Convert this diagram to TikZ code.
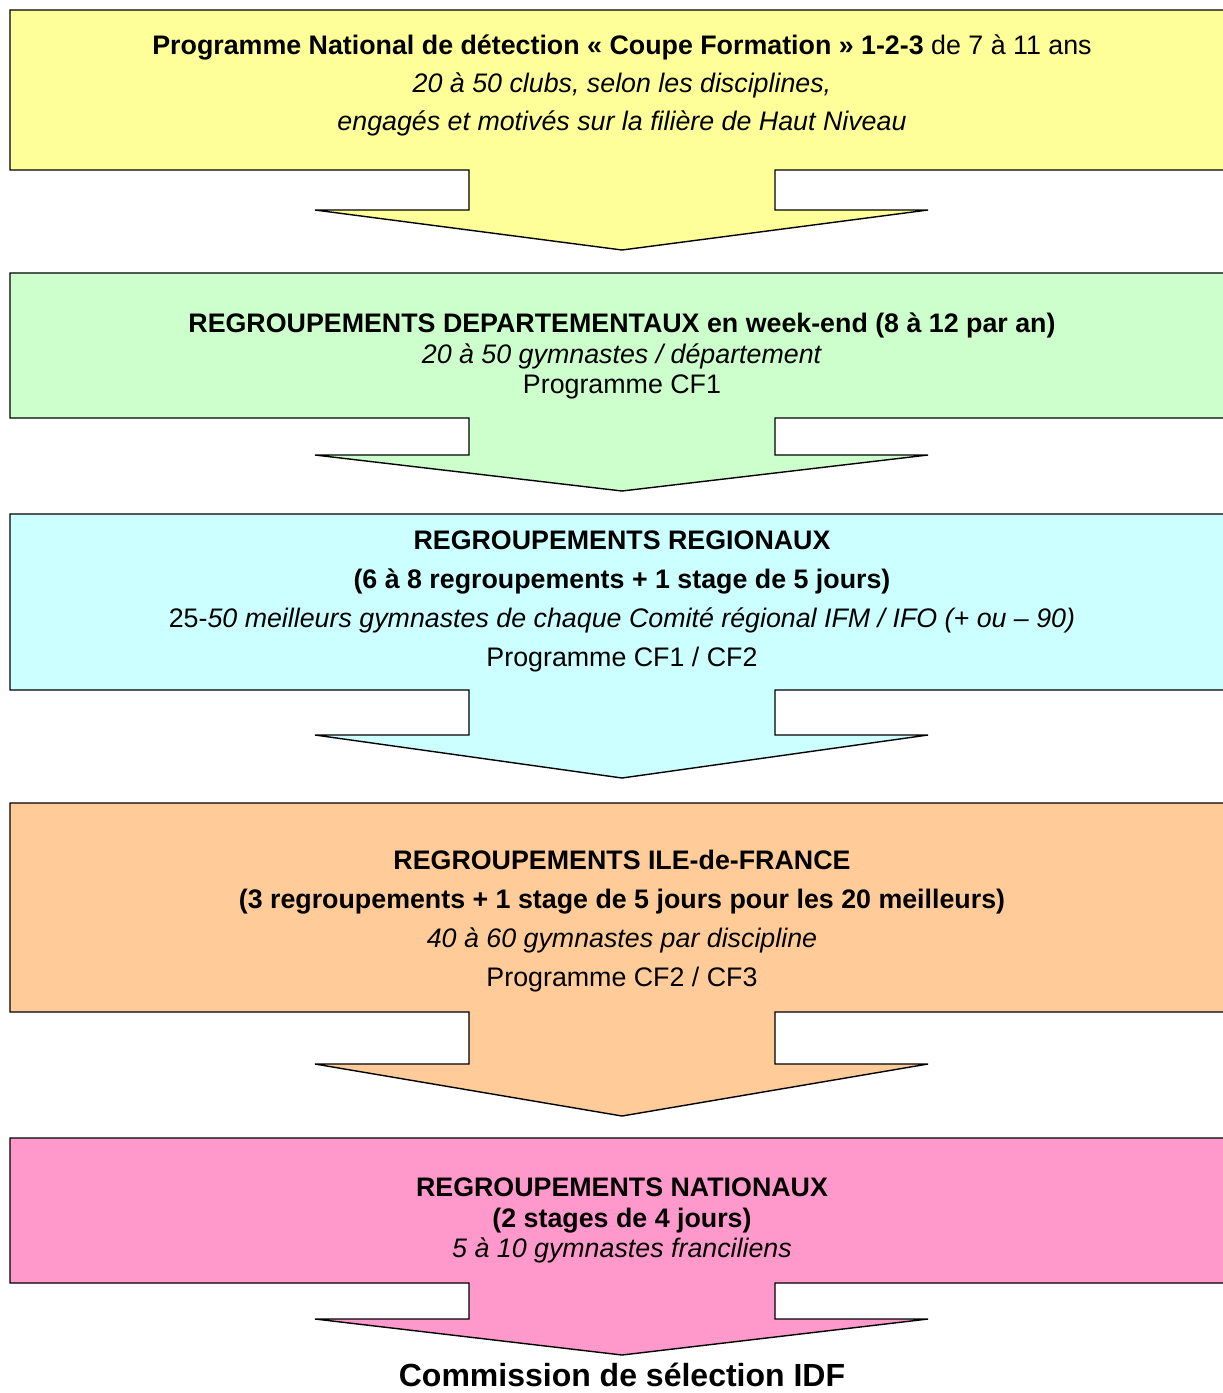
\documentclass[tikz,border=0pt]{standalone}
\usepackage{fontspec}
\setmainfont{Liberation Sans}
\definecolor{cfyellow}{HTML}{FFFF99}
\definecolor{cfgreen}{HTML}{CCFFCC}
\definecolor{cfcyan}{HTML}{CCFFFF}
\definecolor{cforange}{HTML}{FFCC99}
\definecolor{cfpink}{HTML}{FF99CC}

\begin{document}
\begin{tikzpicture}[x=1pt,y=-1pt,
		callout/.style={draw=black,line width=1.4pt,line join=miter},
		stagetext/.style={align=center,inner sep=0pt,font=\fontsize{26.8}{#1}\selectfont}]
			\useasboundingbox (0,0) rectangle (1223,1393);
			% detection
			\draw [callout,fill=cfyellow] (10,10) -- (1240,10) -- (1240,170) -- (775,170) -- (775,210) -- (928,210) -- (622,250) -- (315,210) -- (469,210) -- (469,170) -- (10,170) -- cycle;
			\node [stagetext=38] (detection) at (622,85) {\textbf{Programme National de détection « Coupe Formation » 1-2-3} de 7 à 11 ans\\ \textit{20 à 50 clubs, selon les disciplines,}\\ \textit{engagés et motivés sur la filière de Haut Niveau}};
			% departemental
			\draw [callout,fill=cfgreen] (10,273) -- (1240,273) -- (1240,418) -- (775,418) -- (775,455) -- (928,455) -- (622,491) -- (315,455) -- (469,455) -- (469,418) -- (10,418) -- cycle;
			\node [stagetext=30.5] (departement) at (622,356) {\textbf{REGROUPEMENTS DEPARTEMENTAUX en week-end (8 à 12 par an)}\\ \textit{20 à 50 gymnastes / département}\\ Programme CF1};
			% regional
			\draw [callout,fill=cfcyan] (10,514) -- (1240,514) -- (1240,690) -- (775,690) -- (775,735) -- (928,735) -- (622,778) -- (315,735) -- (469,735) -- (469,690) -- (10,690) -- cycle;
			\node [stagetext=39] (region) at (622,601.5) {\textbf{REGROUPEMENTS REGIONAUX}\\ \textbf{(6 à 8 regroupements + 1 stage de 5 jours)}\\ 25-\textit{50 meilleurs gymnastes de chaque Comité régional IFM / IFO (+ ou – 90)}\\ Programme CF1 / CF2};
			% ile-de-france
			\draw [callout,fill=cforange] (10,803) -- (1240,803) -- (1240,1012) -- (775,1012) -- (775,1064) -- (928,1064) -- (622,1116) -- (315,1064) -- (469,1064) -- (469,1012) -- (10,1012) -- cycle;
			\node [stagetext=39] (idf) at (622,921.5) {\textbf{REGROUPEMENTS ILE-de-FRANCE}\\ \textbf{(3 regroupements + 1 stage de 5 jours pour les 20 meilleurs)}\\ \textit{40 à 60 gymnastes par discipline}\\ Programme CF2 / CF3};
			% national
			\draw [callout,fill=cfpink] (10,1138) -- (1240,1138) -- (1240,1283) -- (775,1283) -- (775,1319) -- (928,1319) -- (622,1355) -- (315,1319) -- (469,1319) -- (469,1283) -- (10,1283) -- cycle;
			\node [stagetext=30.5] (national) at (622,1220.5) {\textbf{REGROUPEMENTS NATIONAUX}\\ \textbf{(2 stages de 4 jours)}\\ \textit{5 à 10 gymnastes franciliens}};
			\node [inner sep=0pt,font=\fontsize{32}{38}\selectfont\bfseries] (commission) at (622,1375) {Commission de sélection IDF};
		\end{tikzpicture}
\end{document}
